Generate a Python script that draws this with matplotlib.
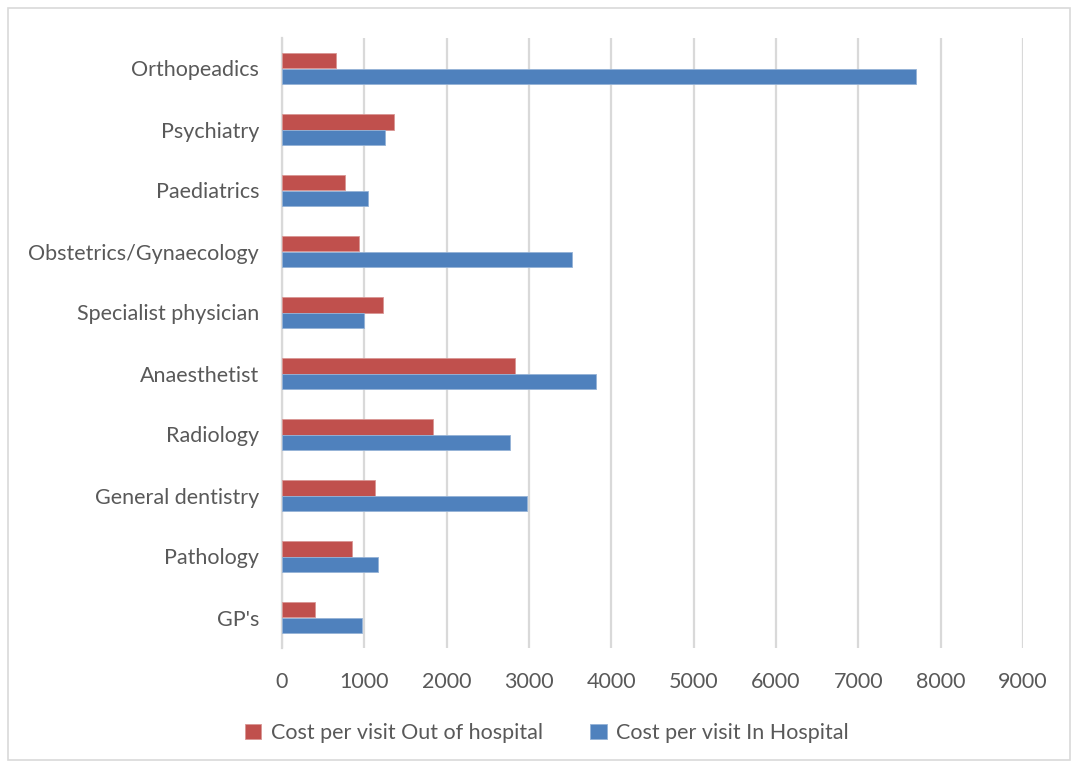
import numpy as np
import matplotlib
matplotlib.use('Agg')
import matplotlib.pyplot as plt
from matplotlib.patches import Rectangle

categories = ["Orthopeadics", "Psychiatry", "Paediatrics", "Obstetrics/Gynaecology",
              "Specialist physician", "Anaesthetist", "Radiology", "General dentistry",
              "Pathology", "GP's"]
out_of_hospital = [650, 1360, 765, 935, 1225, 2825, 1835, 1130, 850, 400]
in_hospital = [7700, 1245, 1045, 3525, 995, 3815, 2770, 2975, 1165, 970]
xticks = list(range(0, 9001, 1000))

red = '#C0504D'
blue = '#4F81BD'
grey_text = '#595959'

plt.rcParams['font.family'] = ['Lato', 'DejaVu Sans']

fig = plt.figure(figsize=(10.73, 7.64), dpi=100)
ax = fig.add_axes([282/1073, 1 - 648/764, (1023 - 282)/1073, (648 - 38)/764])

y = np.arange(len(categories))
h = 0.26
ax.barh(y - h/2, out_of_hospital, height=h, color=red, edgecolor='#D99694',
        linewidth=0.6, label='Cost per visit Out of hospital', zorder=3)
ax.barh(y + h/2, in_hospital, height=h, color=blue, edgecolor='#95B3D7',
        linewidth=0.6, label='Cost per visit In Hospital', zorder=3)

ax.set_xlim(0, 9000)
ax.set_ylim(len(categories) - 0.5, -0.5)
ax.set_xticks(xticks)
ax.set_yticks(y)
ax.set_yticklabels(categories)
ax.tick_params(axis='both', length=0, labelsize=15.5, colors=grey_text)
ax.tick_params(axis='x', pad=17)
ax.tick_params(axis='y', pad=16.5)
ax.grid(axis='x', color='#D9D9D9', linewidth=1.6, zorder=0)
for side in ['top', 'right', 'bottom']:
    ax.spines[side].set_visible(False)
ax.spines['left'].set_color('#D9D9D9')
ax.spines['left'].set_linewidth(1.6)

fig.legend(loc='center', bbox_to_anchor=(547/1073, 1 - 733/764), ncol=2, frameon=False,
           fontsize=15.5, labelcolor=grey_text, handlelength=0.75, handleheight=0.75,
           handletextpad=0.45, columnspacing=2.2)

fig.patches.append(Rectangle((7.5/1073, 1 - 760/764), (1070 - 7.5)/1073, (760 - 7.5)/764,
                             transform=fig.transFigure, fill=False,
                             edgecolor='#D9D9D9', linewidth=1.2))

fig.savefig('out.png', dpi=100, facecolor='white')
